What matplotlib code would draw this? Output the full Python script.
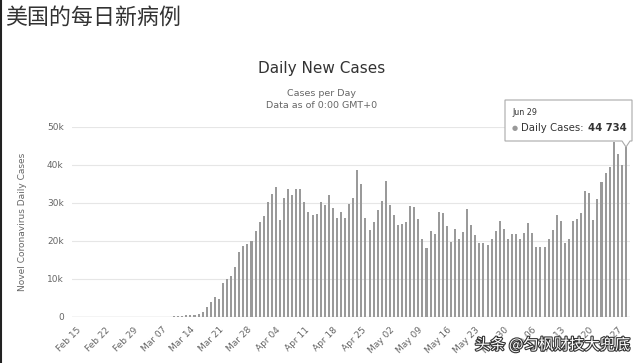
import numpy as np
import matplotlib
matplotlib.use("Agg")
from matplotlib import pyplot as plt
import matplotlib.patheffects as pe

# daily new cases (thousands), one value per day from Feb 15 to Jun 29
feb = [0] * 15
mar = [0.01, 0.02, 0.03, 0.02, 0.05, 0.05, 0.08, 0.1, 0.12, 0.15, 0.18, 0.2,
       0.4, 0.5, 0.6, 0.8, 1.2, 2.6, 4.0, 5.3, 4.7, 9.0, 10.1, 10.8, 13.2,
       17.2, 18.6, 19.3, 20.1, 22.7, 25.0]
apr = [26.6, 30.2, 32.5, 34.2, 25.5, 31.4, 33.8, 32.0, 33.8, 33.8, 30.2,
       27.6, 26.8, 27.2, 30.3, 29.6, 32.0, 28.7, 26.0, 27.7, 26.0, 29.8,
       31.4, 38.6, 34.9, 26.1, 22.8, 25.0, 28.1, 30.5]
may = [35.7, 29.4, 26.9, 24.1, 24.4, 25.0, 29.1, 28.9, 25.9, 20.4, 18.2,
       22.6, 21.8, 27.7, 27.5, 23.9, 19.7, 23.1, 20.4, 22.4, 28.4, 24.3,
       21.5, 19.5, 19.5, 18.9, 20.5, 22.6, 25.2, 23.2, 20.4]
jun = [21.9, 21.8, 20.4, 22.1, 24.8, 22.1, 18.4, 18.4, 18.4, 20.6, 23.0,
       26.9, 25.2, 19.5, 20.4, 25.2, 25.7, 27.4, 33.1, 32.7, 25.6, 31.0,
       35.5, 37.9, 39.6, 46.0, 43.0, 40.1, 44.734]
cases = np.array(feb + mar + apr + may + jun) * 1000

tick_labels = ["Feb 15", "Feb 22", "Feb 29", "Mar 07", "Mar 14", "Mar 21",
               "Mar 28", "Apr 04", "Apr 11", "Apr 18", "Apr 25", "May 02",
               "May 09", "May 16", "May 23", "May 30", "Jun 06", "Jun 13",
               "Jun 20", "Jun 27"]
y_ticks = [0, 10000, 20000, 30000, 40000, 50000]
y_labels = ["0", "10k", "20k", "30k", "40k", "50k"]

plt.rcParams['font.family'] = ['DejaVu Sans', 'Noto Sans CJK SC']

fig = plt.figure(figsize=(6.4, 3.63), dpi=100)
ax = fig.add_axes([72 / 640, 1 - 317 / 363, 558 / 640, 190 / 363])

days = np.arange(len(cases))
ax.bar(days, cases, width=0.5, color="#9a9a9a", zorder=2)

ax.set_xlim(-1.1, 136.0)
ax.set_ylim(0, 50000)
ax.set_yticks(y_ticks)
ax.set_yticklabels(y_labels, fontsize=6.5, color="#666666")
ax.set_xticks(np.arange(0, len(cases), 7))
ax.set_xticklabels(tick_labels, fontsize=6.5, color="#666666",
                   rotation=45, ha="right", va="top", rotation_mode="anchor")
ax.tick_params(length=0, pad=6)
ax.grid(axis="y", color="#e6e6e6", lw=0.8, zorder=0)
for s in ax.spines.values():
    s.set_visible(False)
ax.axhline(0, color="#cccccc", lw=1, zorder=1)
ax.set_ylabel("Novel Coronavirus Daily Cases", fontsize=6.5, color="#666666",
              labelpad=14)

# dark strip on the left edge of the screenshot
fig.add_artist(plt.Line2D([0.0015, 0.0015], [0, 1], color="#222222", lw=1.5,
                          transform=fig.transFigure))

# titles
fig.text(0.008, 0.952, "美国的每日新病例", fontsize=15.8, color="#333333",
         family=['Noto Sans CJK SC'], va="center", ha="left")
fig.text(0.503, 1 - 68 / 363, "Daily New Cases", fontsize=11, color="#333333",
         ha="center", va="center")
fig.text(0.503, 1 - 93 / 363, "Cases per Day", fontsize=6.8, color="#666666",
         ha="center", va="center")
fig.text(0.503, 1 - 106 / 363, "Data as of 0:00 GMT+0", fontsize=6.8,
         color="#666666", ha="center", va="center")

# tooltip
tx0, tx1, ty0, ty1 = 505, 632, 100, 141
px, py = 626, 147
xs = [tx0, tx1, tx1, px + 4, px, px - 4, tx0, tx0]
ys = [ty0, ty0, ty1, ty1, py, ty1, ty1, ty0]
fig.add_artist(plt.Polygon([(x / 640, 1 - y / 363) for x, y in zip(xs, ys)],
                           closed=True, fc="white", ec="#aaaaaa", lw=0.8,
                           transform=fig.transFigure, zorder=5))
fig.text(512 / 640, 1 - 113 / 363, "Jun 29", fontsize=5.8, color="#333333",
         va="center", zorder=6)
fig.text(512 / 640, 1 - 128 / 363, "●", fontsize=5, color="#999999",
         va="center", zorder=6)
fig.text(521 / 640, 1 - 128 / 363, "Daily Cases:", fontsize=7.3, color="#333333",
         va="center", zorder=6)
fig.text(627 / 640, 1 - 128 / 363, "44 734", fontsize=7.3, color="#333333",
         va="center", ha="right", weight="bold", zorder=6)

# watermark
fig.text(630 / 640, 1 - 345 / 363, "头条 @匀枫财技大兜底", fontsize=11,
         color="white", ha="right", va="center",
         family=['Noto Sans CJK SC'], zorder=7,
         path_effects=[pe.withStroke(linewidth=1.6, foreground="#333333")])

fig.savefig("out.png", dpi=100)
